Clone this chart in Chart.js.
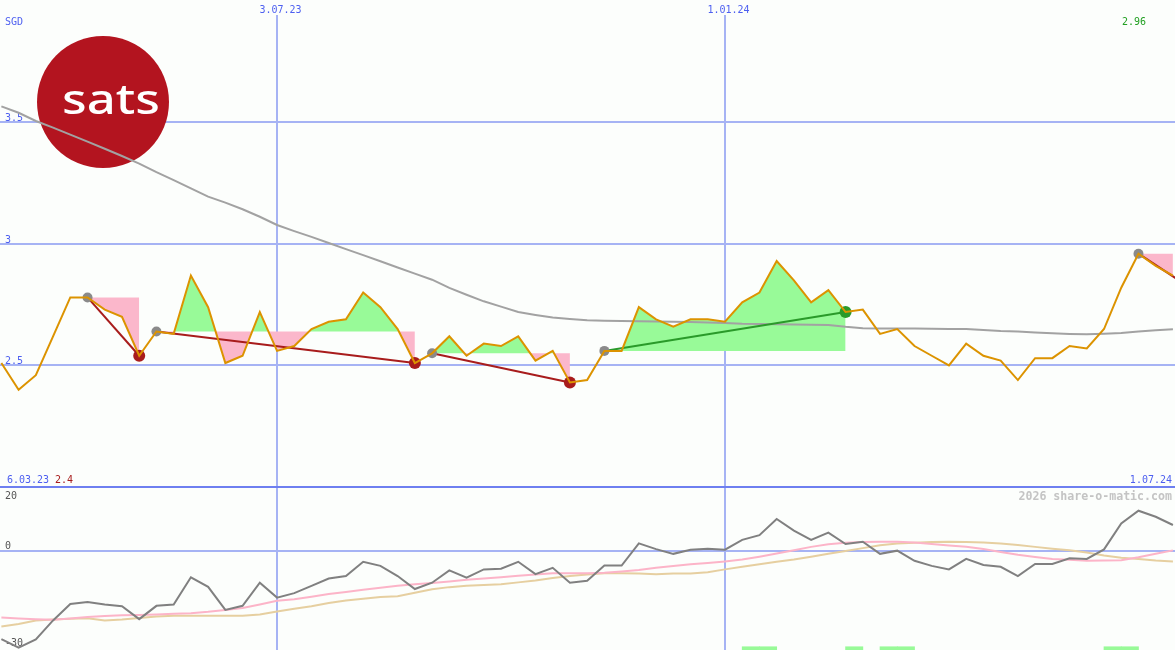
<!DOCTYPE html>
<html>
<head>
<meta charset="utf-8">
<script src="https://cdn.jsdelivr.net/npm/chart.js@4.4.1/dist/chart.umd.min.js"></script>
<style>
  body { margin: 0; background: #fcfefc; }
  #wrap { position: relative; width: 1175px; height: 650px; overflow: hidden; }
  #topChart { position: absolute; left: 0; top: 0; }
  #bottomChart { position: absolute; left: 0; top: 486px; }
</style>
</head>
<body>
<div id="wrap">
  <canvas id="topChart" width="1175" height="486"></canvas>
  <canvas id="bottomChart" width="1175" height="164"></canvas>
</div>
<script>
// weekly closes, week 1 = first week after 6.03.23
const price = [
  2.51, 2.40, 2.46, 2.62, 2.78, 2.78, 2.73, 2.70, 2.54, 2.64,
  2.63, 2.87, 2.74, 2.51, 2.54, 2.72, 2.56, 2.58, 2.65, 2.68,
  2.69, 2.80, 2.74, 2.65, 2.51, 2.55, 2.62, 2.54, 2.59, 2.58,
  2.62, 2.52, 2.56, 2.43, 2.44, 2.56, 2.56, 2.74, 2.69, 2.66,
  2.69, 2.69, 2.68, 2.76, 2.80, 2.93, 2.85, 2.76, 2.81, 2.72,
  2.73, 2.63, 2.65, 2.58, 2.54, 2.50, 2.59, 2.54, 2.52, 2.44,
  2.53, 2.53, 2.58, 2.57, 2.65, 2.82, 2.96, 2.91, 2.87
];
// long moving average (grey)
const avgLong = [
  3.566, 3.540, 3.506, 3.479, 3.450, 3.421, 3.392, 3.362, 3.331, 3.296,
  3.263, 3.229, 3.195, 3.170, 3.143, 3.112, 3.078, 3.053, 3.029, 3.004,
  2.979, 2.954, 2.929, 2.903, 2.878, 2.853, 2.819, 2.791, 2.764, 2.742,
  2.720, 2.708, 2.697, 2.691, 2.686, 2.684, 2.683, 2.682, 2.681, 2.680,
  2.679, 2.677, 2.675, 2.672, 2.671, 2.670, 2.669, 2.668, 2.667, 2.659,
  2.653, 2.652, 2.652, 2.652, 2.651, 2.650, 2.650, 2.646, 2.642, 2.640,
  2.636, 2.633, 2.630, 2.628, 2.631, 2.634, 2.640, 2.645, 2.649
];
// trend segments (start week/price -> end week/price)
const trendStartWeek  = [6, 10, 26, 36, 67];
const trendStartPrice = [2.78, 2.64, 2.55, 2.56, 2.96];
const trendEndWeek    = [9, 25, 34, 50, 70];
const trendEndPrice   = [2.54, 2.51, 2.43, 2.72, 2.82];
const trendUp         = [false, false, false, true, false];
const fillEndWeek     = [9, 25, 34, 50, 69];

// lower panel
const momentum = [
  -27.8, -30.5, -27.9, -21.9, -16.7, -16.1, -16.9, -17.4, -21.5, -17.3,
  -16.9, -8.3, -11.3, -18.6, -17.3, -10.0, -14.7, -13.3, -11.0, -8.7,
  -7.9, -3.4, -4.7, -7.9, -12.0, -10.0, -6.1, -8.4, -5.8, -5.6,
  -3.4, -7.3, -5.3, -10.0, -9.4, -4.6, -4.6, 2.4, 0.6, -0.9,
  0.4, 0.7, 0.4, 3.5, 5.0, 10.1, 6.4, 3.5, 5.8, 2.2,
  2.9, -0.9, 0.1, -3.1, -4.7, -5.8, -2.5, -4.4, -5.0, -7.9,
  -4.1, -4.1, -2.3, -2.5, 0.5, 8.7, 12.7, 10.8, 8.2
];
const momAvgFast = [
  -21.0, -21.3, -21.5, -21.7, -21.3, -20.8, -20.5, -20.3, -20.2, -20.0,
  -19.8, -19.6, -19.2, -18.6, -18.0, -16.9, -15.7, -15.2, -14.4, -13.6,
  -12.9, -12.2, -11.6, -11.0, -10.5, -10.1, -9.6, -9.1, -8.7, -8.3,
  -7.8, -7.4, -7.0, -7.0, -7.0, -6.9, -6.5, -6.0, -5.3, -4.7,
  -4.2, -3.8, -3.3, -2.7, -1.8, -0.8, 0.2, 1.3, 2.1, 2.6,
  2.8, 2.9, 2.9, 2.7, 2.2, 1.7, 1.3, 0.6, -0.3, -1.2,
  -1.9, -2.5, -2.8, -3.1, -3.0, -2.9, -2.0, -0.9, 0.2
];
const momAvgSlow = [
  -23.8, -23.0, -21.9, -21.6, -21.4, -21.2, -21.9, -21.6, -21.1, -20.7,
  -20.4, -20.4, -20.4, -20.4, -20.4, -20.0, -19.1, -18.2, -17.4, -16.4,
  -15.6, -15.1, -14.5, -14.3, -13.2, -12.1, -11.4, -11.0, -10.7, -10.5,
  -9.9, -9.3, -8.5, -7.9, -7.4, -7.0, -7.0, -7.1, -7.3, -7.1,
  -7.1, -6.7, -5.8, -5.0, -4.2, -3.4, -2.7, -1.8, -0.9, 0.0,
  0.9, 1.8, 2.4, 2.6, 2.8, 2.9, 2.8, 2.7, 2.4, 1.9,
  1.3, 0.7, 0.2, -0.5, -1.4, -2.1, -2.5, -3.0, -3.3
];
const signalWeeks = [44, 45, 50, 52, 53, 65, 66];

// axis labels
const priceTicks = [2.5, 3, 3.5];
const dateWeeks = [17, 43];
const dateLabels = ['3.07.23', '1.01.24'];
const startLabel = '6.03.23';
const endLabel = '1.07.24';
const minLabel = '2.4';
const maxLabel = '2.96';
const currency = 'SGD';
const oscTicks = [20, 0, -30];

const FONT = '10px "DejaVu Sans Mono", monospace';
const BLUE = '#4d5ff0';
const GRID = '#a6b3f4';
const RED = '#a81c1c';
const GREEN = '#2a9a2a';
const PINK_FILL = '#fbb7cb';
const GREEN_FILL = '#98fa98';

const pts = arr => arr.map((v, k) => ({ x: k + 1, y: v }));

function makeXAxis() {
  return {
    type: 'linear', min: 0.92, max: 69.12, offset: false,
    afterBuildTicks: s => { s.ticks = dateWeeks.map(v => ({ value: v })); },
    ticks: { display: false },
    grid: { color: GRID, lineWidth: 2, drawTicks: false, offset: false },
    border: { display: false }
  };
}

const topDecor = {
  id: 'topDecor',
  beforeDatasetsDraw(chart) {
    const ctx = chart.ctx, x = chart.scales.x, y = chart.scales.y;
    ctx.save();
    // logo
    ctx.fillStyle = '#b3141f';
    ctx.beginPath();
    ctx.arc(103, 102, 66, 0, Math.PI * 2);
    ctx.fill();
    ctx.font = '500 41px "Noto Sans", sans-serif';
    const w = ctx.measureText('sats').width;
    ctx.translate(111, 113.5);
    ctx.scale(98 / w, 1);
    ctx.fillStyle = '#ffffff';
    ctx.textAlign = 'center';
    ctx.textBaseline = 'alphabetic';
    ctx.fillText('sats', 0, 0);
    ctx.restore();

    ctx.save();
    ctx.font = FONT;
    ctx.textBaseline = 'alphabetic';
    ctx.fillStyle = BLUE;
    ctx.textAlign = 'left';
    ctx.fillText(currency, 5, 25);
    priceTicks.forEach(v => ctx.fillText(String(v), 5, y.getPixelForValue(v) - 1));
    // date labels above the vertical lines
    dateWeeks.forEach((wk, k) => {
      const px = x.getPixelForValue(wk);
      ctx.fillStyle = '#fcfefc';
      ctx.fillRect(px - 25, 0, 52, 15);
      ctx.fillStyle = BLUE;
      ctx.textAlign = 'center';
      ctx.fillText(dateLabels[k], px + 3.5, 13);
    });
    ctx.textAlign = 'left';
    ctx.fillText(startLabel, 7, 483);
    ctx.fillStyle = RED;
    ctx.fillText(minLabel, 55, 483);
    ctx.fillStyle = BLUE;
    ctx.textAlign = 'right';
    ctx.fillText(endLabel, 1172, 483);
    ctx.fillStyle = '#22a022';
    ctx.textAlign = 'left';
    ctx.fillText(maxLabel, 1122, 25);
    ctx.restore();
  }
};

const topDatasets = [{
  data: pts(price),
  borderColor: '#dc9300', borderWidth: 2, pointRadius: 0, tension: 0, order: 0, fill: false
}];
trendStartWeek.forEach((s, k) => {
  topDatasets.push({
    data: [{ x: s, y: trendStartPrice[k] }, { x: trendEndWeek[k], y: trendEndPrice[k] }],
    borderColor: trendUp[k] ? GREEN : RED, borderWidth: 2,
    pointRadius: [5, 6], pointBorderWidth: 0,
    pointBackgroundColor: ['#8a8a8a', trendUp[k] ? GREEN : RED],
    order: 1, fill: false
  });
});
topDatasets.push({
  data: pts(avgLong),
  borderColor: '#a2a2a2', borderWidth: 2, pointRadius: 0, order: 2, fill: false
});
trendStartWeek.forEach((s, k) => {
  topDatasets.push({
    data: [{ x: s, y: trendStartPrice[k] }, { x: fillEndWeek[k], y: trendStartPrice[k] }],
    borderWidth: 0, borderColor: 'transparent', pointRadius: 0, order: 3,
    backgroundColor: PINK_FILL,
    fill: { target: 0, above: PINK_FILL, below: GREEN_FILL }
  });
});

new Chart(document.getElementById('topChart'), {
  type: 'line',
  data: { datasets: topDatasets },
  options: {
    responsive: false, animation: false, devicePixelRatio: 1,
    layout: { padding: 0, autoPadding: false },
    plugins: { legend: { display: false }, tooltip: { enabled: false } },
    scales: {
      x: makeXAxis(),
      y: {
        type: 'linear', min: 2.004, max: 4.004,
        afterBuildTicks: s => { s.ticks = priceTicks.map(v => ({ value: v })); },
        ticks: { display: false },
        grid: { color: GRID, lineWidth: 2, drawTicks: false },
        border: { display: false }
      }
    }
  },
  plugins: [topDecor]
});

const bottomDecor = {
  id: 'bottomDecor',
  beforeDatasetsDraw(chart) {
    const ctx = chart.ctx, y = chart.scales.y;
    ctx.save();
    ctx.fillStyle = '#6e7ff0';
    ctx.fillRect(0, 0, chart.width, 2);
    ctx.font = FONT;
    ctx.fillStyle = '#555555';
    ctx.textAlign = 'left';
    ctx.fillText(String(oscTicks[0]), 5, y.getPixelForValue(oscTicks[0]) + 11);
    ctx.fillText(String(oscTicks[1]), 5, y.getPixelForValue(oscTicks[1]) - 2);
    ctx.fillText(String(oscTicks[2]), 5, y.getPixelForValue(oscTicks[2]));
    ctx.font = 'bold 11.6px "DejaVu Sans Mono", monospace';
    ctx.fillStyle = '#c4c4c4';
    ctx.textAlign = 'right';
    ctx.fillText('2026 share-o-matic.com', 1172, 14);
    ctx.restore();
  }
};

new Chart(document.getElementById('bottomChart'), {
  type: 'line',
  data: {
    datasets: [
      { data: pts(momentum), borderColor: '#808080', borderWidth: 2, pointRadius: 0, order: 0 },
      { data: pts(momAvgFast), borderColor: '#fcb4c8', borderWidth: 2, pointRadius: 0, order: 1 },
      { data: pts(momAvgSlow), borderColor: '#e6cfa0', borderWidth: 2, pointRadius: 0, order: 2 },
      {
        type: 'bar', order: 3,
        data: signalWeeks.map(w => ({ x: w + 0.5, y: [-31.4, -30.2] })),
        backgroundColor: GREEN_FILL, borderWidth: 0, barThickness: 17.3, grouped: false
      }
    ]
  },
  options: {
    responsive: false, animation: false, devicePixelRatio: 1,
    layout: { padding: 0, autoPadding: false },
    plugins: { legend: { display: false }, tooltip: { enabled: false } },
    scales: {
      x: makeXAxis(),
      y: {
        type: 'linear', min: -31.23, max: 20.5,
        afterBuildTicks: s => { s.ticks = [{ value: 0 }]; },
        ticks: { display: false },
        grid: { color: GRID, lineWidth: 2, drawTicks: false },
        border: { display: false }
      }
    }
  },
  plugins: [bottomDecor]
});
</script>
</body>
</html>
